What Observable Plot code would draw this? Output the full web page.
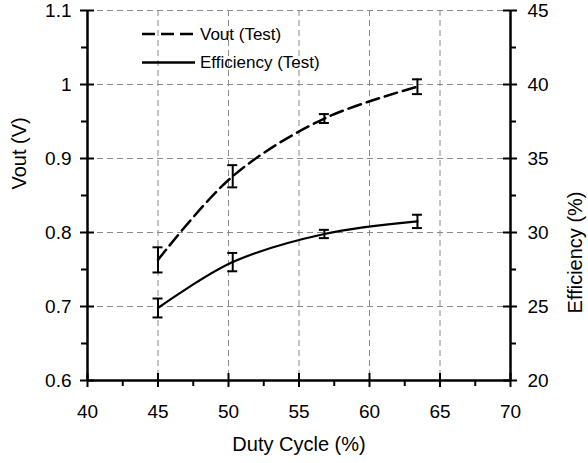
<!DOCTYPE html>
<html><head><meta charset="utf-8">
<script src="https://cdn.jsdelivr.net/npm/d3@7"></script>
<script src="https://cdn.jsdelivr.net/npm/@observablehq/plot@0.6"></script>
<style>
body{margin:0;background:#fff;}
#wrap{position:relative;width:588px;height:463px;font-family:"Liberation Sans",Arial,sans-serif;}
#legend{position:absolute;left:0;top:0;pointer-events:none;}
</style></head><body><div id="wrap"></div>
<script>
// ---- data ----
const dutyCycle = [45.0, 50.3, 56.8, 63.4];
const vout = [0.763, 0.876, 0.954, 0.997];
const voutErr = [0.017, 0.015, 0.006, 0.010];
const efficiency = [24.9, 28.0, 29.9, 30.75];
const effErr = [0.64, 0.62, 0.28, 0.45];

const xDomain = [40, 70];
const voutDomain = [0.6, 1.1];
const effDomain = [20, 45];
const xTicks = [40, 45, 50, 55, 60, 65, 70];
const xMinor = [42.5, 47.5, 52.5, 57.5, 62.5, 67.5];
const voutTicks = [0.6, 0.7, 0.8, 0.9, 1.0, 1.1];
const voutMinor = [0.65, 0.75, 0.85, 0.95, 1.05];
const effTicks = [20, 25, 30, 35, 40, 45];
const effMinor = [22.5, 27.5, 32.5, 37.5, 42.5];

const seriesNames = ["Vout (Test)", "Efficiency (Test)"];
const xTitle = "Duty Cycle (%)";
const yLeftTitle = "Vout (V)";
const yRightTitle = "Efficiency (%)";

// map efficiency (right axis) onto the shared y scale
const k = (voutDomain[1] - voutDomain[0]) / (effDomain[1] - effDomain[0]);
const toV = e => voutDomain[0] + (e - effDomain[0]) * k;
const fromV = v => effDomain[0] + (v - voutDomain[0]) / k;

const vData = dutyCycle.map((x, i) => ({x, y: vout[i], lo: vout[i] - voutErr[i], hi: vout[i] + voutErr[i]}));
const eData = dutyCycle.map((x, i) => ({x, y: toV(efficiency[i]), lo: toV(efficiency[i] - effErr[i]), hi: toV(efficiency[i] + effErr[i])}));
const caps = [...vData, ...eData].flatMap(d => [{x: d.x, y: d.lo}, {x: d.x, y: d.hi}]);

const font = '"Liberation Sans", Arial, sans-serif';
const axisW = 2.5;
const tickFs = 19, titleFs = 20, legendFs = 17;

const chart = Plot.plot({
  width: 588, height: 463,
  marginLeft: 87, marginRight: 78, marginTop: 10, marginBottom: 83,
  style: {fontFamily: font, fontSize: tickFs + "px", color: "#000", background: "#fff"},
  x: {domain: xDomain},
  y: {domain: voutDomain},
  marks: [
    Plot.gridX(xTicks.slice(1, -1), {stroke: "#8a8a8a", strokeOpacity: 1, strokeDasharray: "6,4"}),
    Plot.gridY(voutTicks.slice(1), {stroke: "#8a8a8a", strokeOpacity: 1, strokeDasharray: "6,4"}),
    Plot.line(vData, {x: "x", y: "y", curve: "catmull-rom", stroke: "#000", strokeWidth: 2.5, strokeDasharray: "13,6"}),
    Plot.line(eData, {x: "x", y: "y", curve: "catmull-rom", stroke: "#000", strokeWidth: 2.2}),
    Plot.ruleX([...vData, ...eData], {x: "x", y1: "lo", y2: "hi", stroke: "#000", strokeWidth: 2}),
    Plot.ruleY(caps, {y: "y", x1: "x", x2: "x", insetLeft: -5, insetRight: -5, stroke: "#000", strokeWidth: 2}),
    // axis lines
    Plot.ruleX([xDomain[0], xDomain[1]], {stroke: "#000", strokeWidth: axisW}),
    Plot.ruleY([voutDomain[0]], {stroke: "#000", strokeWidth: axisW}),
    // bottom ticks
    Plot.ruleX(xTicks, {x: d => d, y1: () => voutDomain[0], y2: () => voutDomain[0], insetTop: -7, insetBottom: -7, stroke: "#000", strokeWidth: 2}),
    Plot.ruleX(xMinor, {x: d => d, y1: () => voutDomain[0], y2: () => voutDomain[0], insetTop: 0, insetBottom: -6, stroke: "#000", strokeWidth: 2}),
    // left ticks
    Plot.ruleY(voutTicks, {y: d => d, x1: () => xDomain[0], x2: () => xDomain[0], insetLeft: -7, insetRight: -7, stroke: "#000", strokeWidth: 2}),
    Plot.ruleY(voutMinor, {y: d => d, x1: () => xDomain[0], x2: () => xDomain[0], insetLeft: -6, insetRight: 0, stroke: "#000", strokeWidth: 2}),
    // right ticks
    Plot.ruleY(effTicks.map(toV), {y: d => d, x1: () => xDomain[1], x2: () => xDomain[1], insetLeft: -7, insetRight: -7, stroke: "#000", strokeWidth: 2}),
    Plot.ruleY(effMinor.map(toV), {y: d => d, x1: () => xDomain[1], x2: () => xDomain[1], insetLeft: 0, insetRight: -6, stroke: "#000", strokeWidth: 2}),
    // tick labels
    Plot.axisX({ticks: xTicks, tickSize: 0, tickPadding: 24, tickFormat: d => String(d), label: null, fontSize: tickFs}),
    Plot.axisY({anchor: "left", ticks: voutTicks, tickSize: 0, tickPadding: 16, tickFormat: d => String(+d.toFixed(2)), label: null, fontSize: tickFs}),
    Plot.axisY({anchor: "right", ticks: effTicks.map(toV), tickSize: 0, tickPadding: 17, tickFormat: d => String(Math.round(fromV(d))), label: null, fontSize: tickFs}),
    // titles
    Plot.text([xTitle], {text: d => d, frameAnchor: "bottom", dy: 64, lineAnchor: "middle", fontSize: titleFs}),
    Plot.text([yLeftTitle], {text: d => d, frameAnchor: "left", rotate: -90, dx: -68, dy: -6, lineAnchor: "middle", fontSize: titleFs}),
    Plot.text([yRightTitle], {text: d => d, frameAnchor: "right", rotate: -90, dx: 65, dy: -4, lineAnchor: "middle", fontSize: titleFs})
  ]
});
const wrap = document.getElementById("wrap");
wrap.appendChild(chart);

// legend overlay (inside plot area, top-left)
const ns = "http://www.w3.org/2000/svg";
const leg = document.createElementNS(ns, "svg");
leg.setAttribute("id", "legend");
leg.setAttribute("width", 588);
leg.setAttribute("height", 80);
const items = [
  {name: seriesNames[0], dash: "13,6", y: 34},
  {name: seriesNames[1], dash: null, y: 62.5}
];
items.forEach(it => {
  const l = document.createElementNS(ns, "line");
  l.setAttribute("x1", 142); l.setAttribute("x2", 195);
  l.setAttribute("y1", it.y); l.setAttribute("y2", it.y);
  l.setAttribute("stroke", "#000"); l.setAttribute("stroke-width", 2.4);
  if (it.dash) l.setAttribute("stroke-dasharray", it.dash);
  leg.appendChild(l);
  const t = document.createElementNS(ns, "text");
  t.setAttribute("x", 200); t.setAttribute("y", it.y);
  t.setAttribute("dy", "0.35em");
  t.setAttribute("font-family", font);
  t.setAttribute("font-size", legendFs);
  t.textContent = it.name;
  leg.appendChild(t);
});
wrap.appendChild(leg);
</script></body></html>
